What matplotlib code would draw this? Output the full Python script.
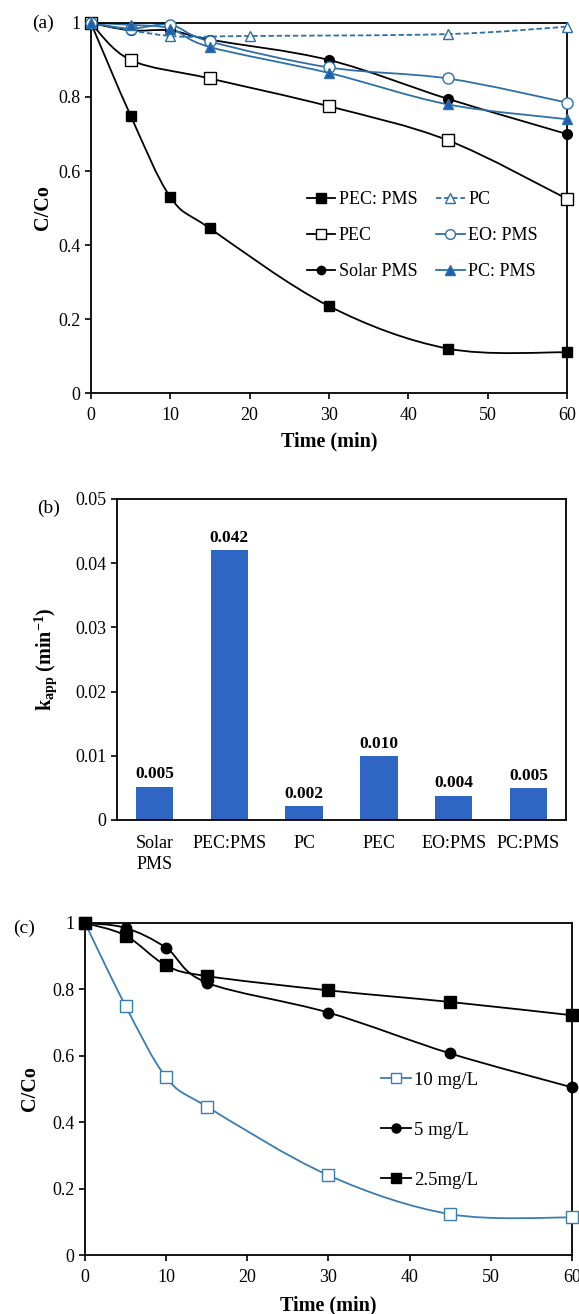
import numpy as np
import matplotlib
matplotlib.use("Agg")
import matplotlib.pyplot as plt
from matplotlib.path import Path
from matplotlib.patches import PathPatch
from matplotlib.lines import Line2D
from matplotlib.ticker import FuncFormatter

plt.rcParams['font.family'] = ['Liberation Serif', 'DejaVu Serif']
plt.rcParams['mathtext.fontset'] = 'custom'
plt.rcParams['mathtext.rm'] = 'Liberation Serif'
plt.rcParams['mathtext.bf'] = 'Liberation Serif:bold'
plt.rcParams['mathtext.it'] = 'Liberation Serif:italic'

# (a) degradation curves
t_a = [0, 5, 10, 15, 30, 45, 60]
pec_pms = [1.0, 0.75, 0.53, 0.445, 0.235, 0.12, 0.11]
t_pec = [0, 5, 15, 30, 45, 60]
pec = [1.0, 0.90, 0.85, 0.775, 0.683, 0.525]
solar_pms = [1.0, 0.98, 0.98, 0.955, 0.90, 0.795, 0.70]
t_pc = [0, 10, 20, 45, 60]
pc = [1.0, 0.965, 0.965, 0.97, 0.99]
eo_pms = [1.0, 0.985, 0.995, 0.95, 0.88, 0.85, 0.785]
pc_pms = [1.0, 0.995, 0.985, 0.935, 0.865, 0.78, 0.74]

# (b) rate constants
processes = ['Solar\nPMS', 'PEC:PMS', 'PC', 'PEC', 'EO:PMS', 'PC:PMS']
k_app = [0.0052, 0.042, 0.0021, 0.010, 0.0038, 0.0049]

# (c) effect of PMS dose
t_c = [0, 5, 10, 15, 30, 45, 60]
dose_10 = [1.0, 0.75, 0.535, 0.447, 0.24, 0.123, 0.113]
dose_5 = [1.0, 0.985, 0.925, 0.82, 0.73, 0.607, 0.505]
dose_25 = [1.0, 0.962, 0.872, 0.84, 0.797, 0.762, 0.722]

BLUE = '#2F6FA8'
BLUE_F = '#1F5FB0'
BAR = '#2F66C3'
TICK_FS = 13
LAB_FS = 14.5


def smooth_path(x, y):
    # Excel-like smoothed line: Catmull-Rom segments as cubic Bezier curves
    pts = np.column_stack([x, y]).astype(float)
    n = len(pts)
    verts = [pts[0]]
    codes = [Path.MOVETO]
    for i in range(n - 1):
        p0 = pts[max(i - 1, 0)]
        p1 = pts[i]
        p2 = pts[i + 1]
        p3 = pts[min(i + 2, n - 1)]
        verts += [p1 + (p2 - p0) / 6, p2 - (p3 - p1) / 6, p2]
        codes += [Path.CURVE4] * 3
    return Path(verts, codes)


def series(ax, x, y, color, marker, face, ms, ls='-', label=None):
    ax.add_patch(PathPatch(smooth_path(x, y), facecolor='none', edgecolor=color,
                           lw=1.3, linestyle=ls, zorder=2))
    ax.plot(x, y, linestyle='none', marker=marker, ms=ms, mfc=face, mec=color,
            mew=1.0, zorder=3, clip_on=False)
    return Line2D([], [], color=color, lw=1.3, linestyle=ls, marker=marker,
                  ms=ms - 1, mfc=face, mec=color, mew=1.0, label=label)


def style_axes(ax):
    for s in ax.spines.values():
        s.set_linewidth(1.3)
    ax.tick_params(direction='out', length=4, width=1.2, labelsize=TICK_FS,
                   top=False, right=False)
    ax.tick_params(axis='x', pad=6)


fmt = FuncFormatter(lambda v, p: f"{v:g}")

fig = plt.figure(figsize=(5.79, 13.14), dpi=100)

# ---------- (a)
ax1 = fig.add_axes([0.157, 0.7009, 0.822, 0.2816])
h = []
h.append(series(ax1, t_a, pec_pms, 'black', 's', 'black', 7.5, label='PEC: PMS'))
h.append(series(ax1, t_pec, pec, 'black', 's', 'white', 8, label='PEC'))
h.append(series(ax1, t_a, solar_pms, 'black', 'o', 'black', 7, label='Solar PMS'))
h.append(series(ax1, t_pc, pc, BLUE, '^', 'white', 7.5, ls=(0, (3, 1.5)), label='PC'))
h.append(series(ax1, t_a, eo_pms, BLUE, 'o', 'white', 8, label='EO: PMS'))
h.append(series(ax1, t_a, pc_pms, BLUE, '^', BLUE_F, 7.5, label='PC: PMS'))
ax1.set_xlim(0, 60)
ax1.set_ylim(0, 1)
ax1.set_xticks(range(0, 61, 10))
ax1.set_yticks(np.arange(0, 1.01, 0.2))
ax1.yaxis.set_major_formatter(fmt)
style_axes(ax1)
ax1.set_xlabel('Time (min)', fontsize=LAB_FS, fontweight='bold')
ax1.set_ylabel('C/Co', fontsize=LAB_FS, fontweight='bold')
ax1.xaxis.set_label_coords(0.5, -0.105)
ax1.yaxis.set_label_coords(-0.08, 0.5)
ax1.legend(handles=h, ncol=2, loc='upper left', bbox_to_anchor=(0.453, 0.545),
           frameon=False, fontsize=13, handlelength=1.6, handletextpad=0.2,
           columnspacing=1.0, labelspacing=1.05, borderpad=0, borderaxespad=0)

# ---------- (b)
ax2 = fig.add_axes([0.202, 0.3760, 0.7755, 0.2443])
bars = ax2.bar(range(len(processes)), k_app, width=0.5, color=BAR, zorder=2)
ax2.bar_label(bars, labels=[f"{v:.3f}" for v in k_app], padding=3,
              fontsize=12.5, fontweight='bold')
ax2.set_xlim(-0.5, len(processes) - 0.5)
ax2.set_ylim(0, 0.05)
ax2.set_yticks(np.arange(0, 0.0501, 0.01))
ax2.yaxis.set_major_formatter(fmt)
ax2.set_xticks(range(len(processes)))
ax2.set_xticklabels(processes, linespacing=1.3)
style_axes(ax2)
ax2.tick_params(axis='x', length=0, pad=11)
ax2.set_ylabel(r'k$_{\mathbf{app}}$ (min$^{\mathbf{-1}}$)', fontsize=LAB_FS,
               fontweight='bold')
ax2.yaxis.set_label_coords(-0.13, 0.5)

# ---------- (c)
ax3 = fig.add_axes([0.1468, 0.0449, 0.841, 0.2527])
h3 = []
h3.append(series(ax3, t_c, dose_10, '#3A7DB2', 's', 'white', 8, label='10 mg/L'))
h3.append(series(ax3, t_c, dose_5, 'black', 'o', 'black', 7.5, label='5 mg/L'))
h3.append(series(ax3, t_c, dose_25, 'black', 's', 'black', 8, label='2.5mg/L'))
ax3.set_xlim(0, 60)
ax3.set_ylim(0, 1)
ax3.set_xticks(range(0, 61, 10))
ax3.set_yticks(np.arange(0, 1.01, 0.2))
ax3.yaxis.set_major_formatter(fmt)
style_axes(ax3)
ax3.set_xlabel('Time (min)', fontsize=LAB_FS, fontweight='bold')
ax3.set_ylabel('C/Co', fontsize=LAB_FS, fontweight='bold')
ax3.xaxis.set_label_coords(0.5, -0.123)
ax3.yaxis.set_label_coords(-0.092, 0.5)
ax3.legend(handles=h3, loc='upper left', bbox_to_anchor=(0.607, 0.552),
           frameon=False, fontsize=13.5, handlelength=1.6, handletextpad=0.2,
           labelspacing=1.75, borderpad=0, borderaxespad=0)

fig.text(0.0743, 0.9825, '(a)', fontsize=14, ha='center', va='center')
fig.text(0.0846, 0.6134, '(b)', fontsize=14, ha='center', va='center')
fig.text(0.0415, 0.2938, '(c)', fontsize=14, ha='center', va='center')

fig.savefig('out.png', dpi=100)
